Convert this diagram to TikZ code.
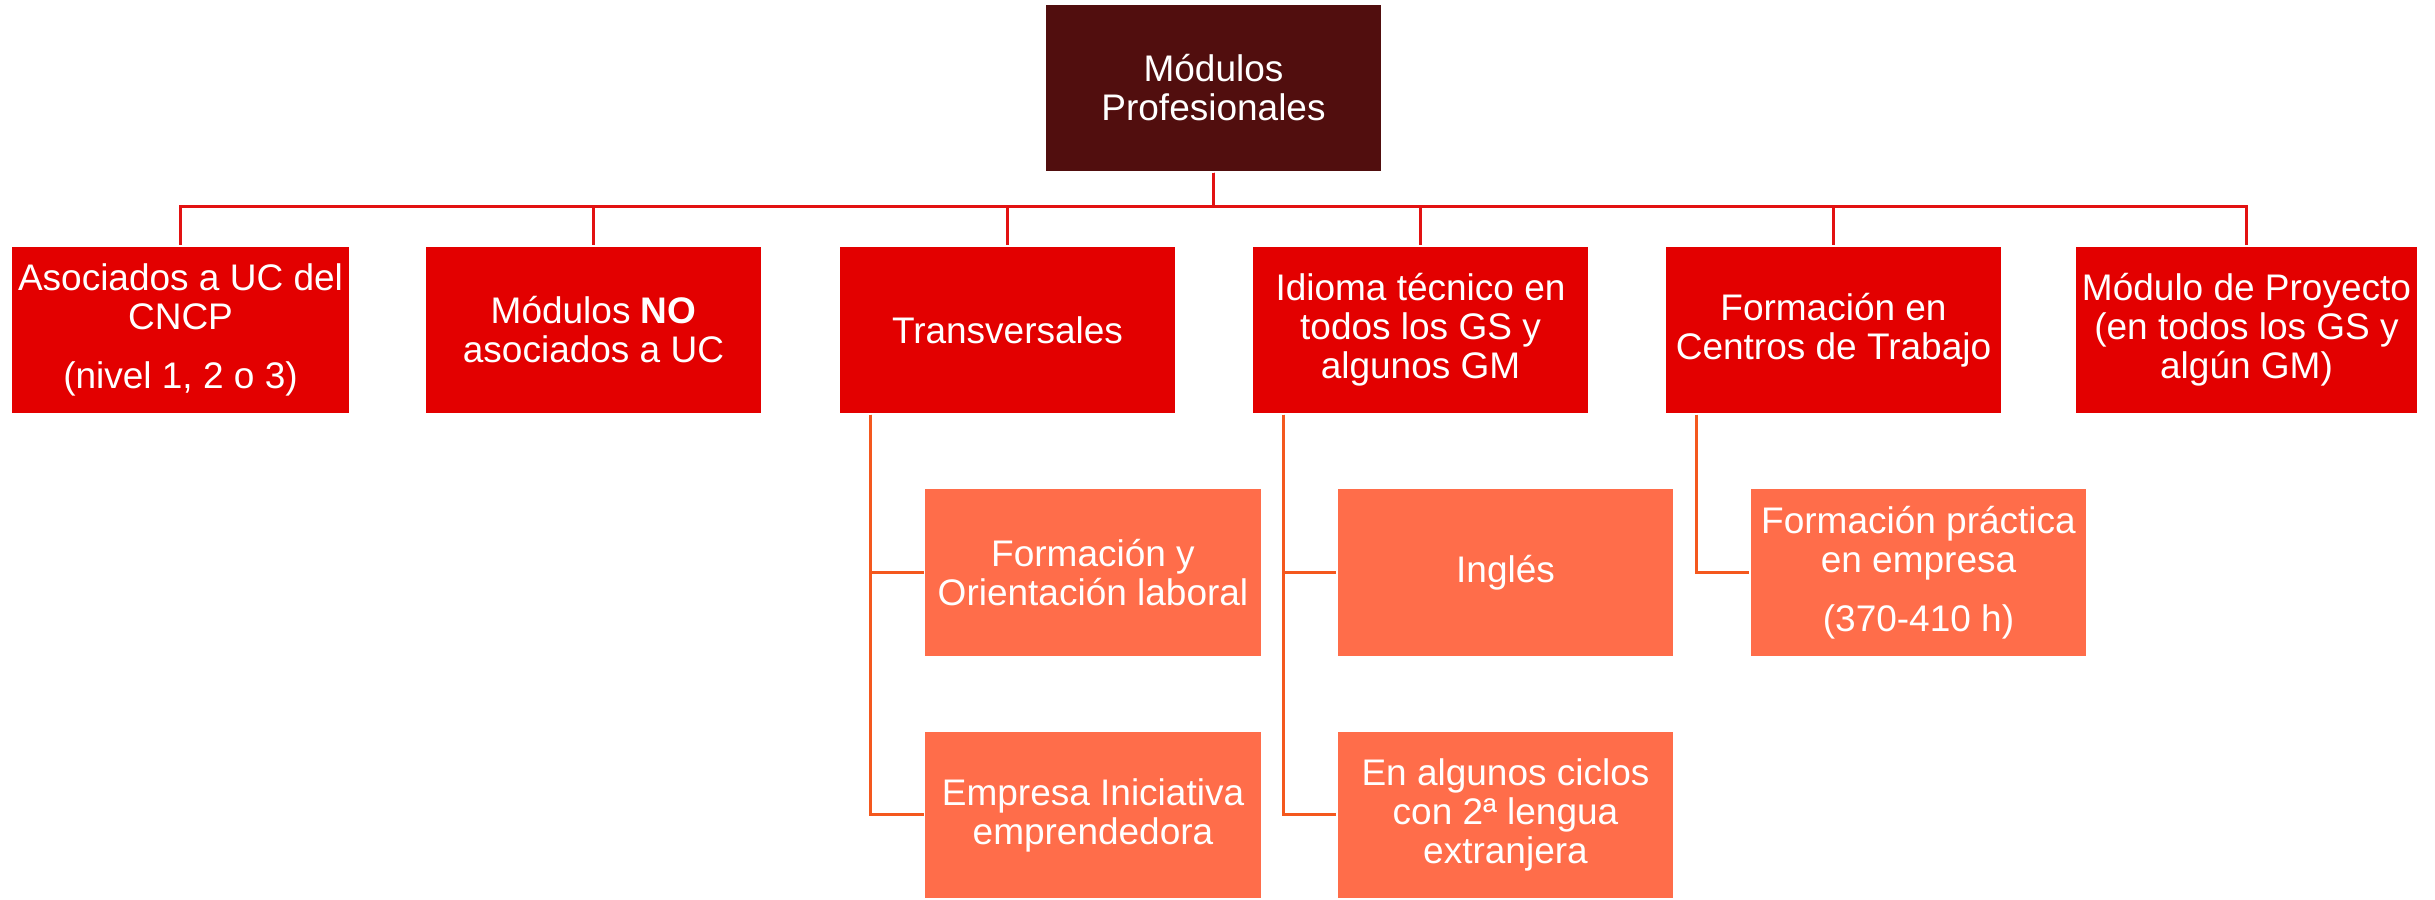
\documentclass[tikz,border=0pt]{standalone}
\usepackage{fontspec}
\setmainfont{Liberation Sans}
\usepackage{tikz}
\usetikzlibrary{calc}
\definecolor{maroon}{RGB}{81,14,14}
\definecolor{redbox}{RGB}{227,0,0}
\definecolor{coral}{RGB}{255,109,74}
\definecolor{redline}{RGB}{226,18,18}
\definecolor{orangeline}{RGB}{244,88,30}
\tikzset{
  box/.style={minimum width=101.1pt, minimum height=50.4pt, inner sep=2pt,
      align=center, text=white, draw=white, line width=0.4pt,
      font=\fontsize{11.1}{11.7}\selectfont},
  topbox/.style={box, fill=maroon},
  mainbox/.style={box, fill=redbox},
  subbox/.style={box, fill=coral},
  mainline/.style={redline, line width=0.9pt},
  subline/.style={orangeline, line width=0.9pt},
}
\begin{document}
\begin{tikzpicture}[x=0.3pt, y=-0.3pt]
      \useasboundingbox (0,0) rectangle (2435,900);

      \node [topbox] (modulos) at (1213.5,88) {M\'odulos\\Profesionales};

      \node [mainbox] (asociados) at (180.5,330)
      {Asociados a UC del\\CNCP\\[6pt](nivel 1, 2 o 3)};
      \node [mainbox] (noasoc) at (593.5,330)
      {M\'odulos \textbf{NO}\\asociados a UC};
      \node [mainbox] (transv) at (1007.5,330) {Transversales};
      \node [mainbox] (idioma) at (1420.5,330)
      {Idioma t\'ecnico en\\todos los GS y\\algunos GM};
      \node [mainbox] (fct) at (1833.5,330)
      {Formaci\'on en\\Centros de Trabajo};
      \node [mainbox] (proyecto) at (2246.5,330)
      {M\'odulo de Proyecto\\(en todos los GS y\\alg\'un GM)};

      \node [subbox] (fol) at (1093,572.5)
      {Formaci\'on y\\Orientaci\'on laboral};
      \node [subbox] (eie) at (1093,815)
      {Empresa Iniciativa\\emprendedora};
      \node [subbox] (ingles) at (1505.5,572.5) {Ingl\'es};
      \node [subbox] (segunda) at (1505.5,815)
      {En algunos ciclos\\con 2ª lengua\\extranjera};
      \node [subbox] (practica) at (1918.5,572.5)
      {Formaci\'on pr\'actica\\en empresa\\[6pt](370-410 h)};

      % bus under the top box
      \coordinate (bus) at (0,207);
      \foreach \child in {asociados, noasoc, transv, idioma, fct, proyecto}
        \draw [mainline] (modulos.south) |- (bus -| \child) -- (\child.north);

      % side branches
      \draw [subline] ($(transv.south west)+(32,0)$) |- (eie.west);
      \draw [subline] ($(transv.south west)+(32,0)$) |- (fol.west);
      \draw [subline] ($(idioma.south west)+(32,0)$) |- (segunda.west);
      \draw [subline] ($(idioma.south west)+(32,0)$) |- (ingles.west);
      \draw [subline] ($(fct.south west)+(32,0)$) |- (practica.west);

    \end{tikzpicture}
\end{document}
